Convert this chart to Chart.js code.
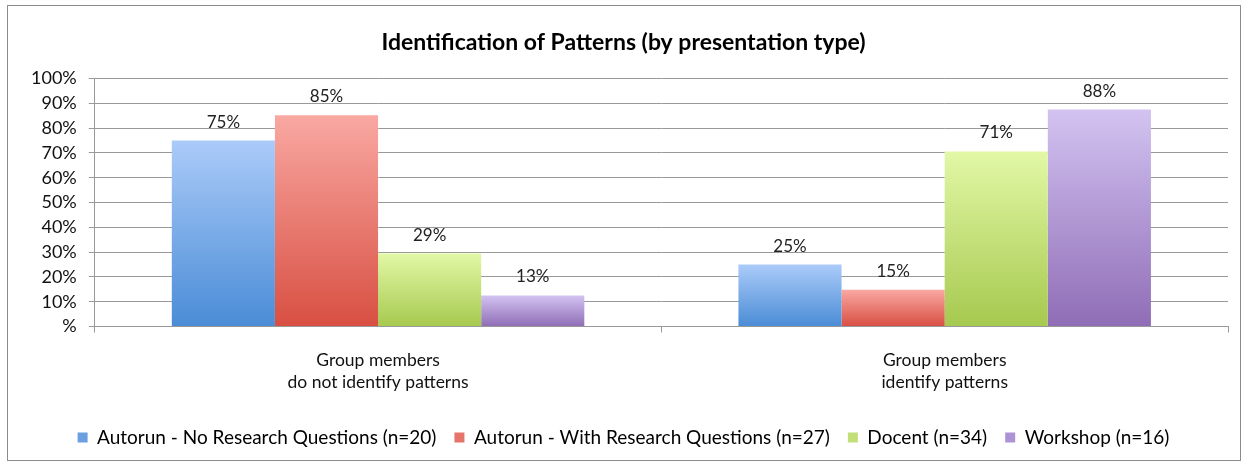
<!DOCTYPE html>
<html>
<head>
<meta charset="utf-8">
<script src="https://cdn.jsdelivr.net/npm/chart.js@4.4.0/dist/chart.umd.min.js"></script>
<style>
  body { margin: 0; background: #fff; }
  #wrap { position: absolute; left: 0; top: 0; width: 1248px; height: 465px; }
  #frame { position: absolute; left: 7px; top: 5px; width: 1232px; height: 454px; border: 1px solid #8c8c8c; pointer-events: none; }
</style>
</head>
<body>
<div id="wrap">
  <canvas id="myChart" width="1248" height="465"></canvas>
  <div id="frame"></div>
</div>
<script>
var categories = [['Group members', 'do not identify patterns'], ['Group members', 'identify patterns']];
var seriesNames = ['Autorun - No Research Questions (n=20)', 'Autorun - With Research Questions (n=27)', 'Docent (n=34)', 'Workshop (n=16)'];
var noResearch = [75, 25];
var withResearch = [85.2, 14.8];
var docent = [29.4, 70.6];
var workshop = [12.5, 87.5];
var yTicks = ['%', '10%', '20%', '30%', '40%', '50%', '60%', '70%', '80%', '90%', '100%'];

var palette = [
    { top: '#abcbf9', bottom: '#4a8cd6', solid: '#6a9fe0' },
    { top: '#f9a8a2', bottom: '#d84f42', solid: '#e5756b' },
    { top: '#e2f8a6', bottom: '#a6c94f', solid: '#c2df78' },
    { top: '#d3c3f1', bottom: '#8f6db6', solid: '#ad93d5' }
];

function barFill(i) {
    return function(ctx) {
        var chart = ctx.chart;
        var y = chart.scales && chart.scales.y;
        if (ctx.raw === undefined || !y || !chart.chartArea) return palette[i].solid;
        var top = y.getPixelForValue(ctx.raw);
        var bottom = y.getPixelForValue(0);
        if (!isFinite(top) || !isFinite(bottom) || top === bottom) return palette[i].solid;
        var g = chart.ctx.createLinearGradient(0, top, 0, bottom);
        g.addColorStop(0, palette[i].top);
        g.addColorStop(1, palette[i].bottom);
        return g;
    };
}

var valueLabels = {
    id: 'valueLabels',
    afterDatasetsDraw: function(chart) {
        var c = chart.ctx;
        c.save();
        c.font = '17px Lato';
        c.fillStyle = '#222';
        c.textAlign = 'center';
        c.textBaseline = 'bottom';
        chart.data.datasets.forEach(function(ds, i) {
            chart.getDatasetMeta(i).data.forEach(function(bar, j) {
                c.fillText(Math.round(ds.data[j]) + '%', bar.x, bar.y - 10);
            });
        });
        c.restore();
    }
};

var sets = [noResearch, withResearch, docent, workshop];
var ctx = document.getElementById('myChart').getContext('2d');
var myChart = new Chart(ctx, {
    type: 'bar',
    data: {
        labels: categories,
        datasets: sets.map(function(d, i) {
            return {
                label: seriesNames[i],
                data: d,
                backgroundColor: barFill(i),
                borderWidth: 0,
                barPercentage: 1,
                categoryPercentage: 0.728
            };
        })
    },
    options: {
        responsive: false,
        animation: false,
        layout: {
            padding: { left: 19, right: 20, top: 0, bottom: 8 }
        },
        plugins: {
            title: {
                display: true,
                text: 'Identification of Patterns (by presentation type)',
                color: '#000',
                font: { family: 'Lato', size: 23, weight: 'bold' },
                padding: { top: 29, bottom: 22 }
            },
            legend: {
                position: 'bottom',
                labels: {
                    color: '#111',
                    font: { family: 'Lato', size: 19 },
                    boxWidth: 10,
                    boxHeight: 10,
                    padding: 18,
                    generateLabels: function(chart) {
                        return chart.data.datasets.map(function(ds, i) {
                            return {
                                text: ds.label,
                                fillStyle: palette[i].solid,
                                strokeStyle: palette[i].solid,
                                lineWidth: 0,
                                datasetIndex: i
                            };
                        });
                    }
                }
            },
            tooltip: { enabled: false }
        },
        scales: {
            x: {
                grid: {
                    offset: true,
                    drawOnChartArea: false,
                    color: '#999',
                    tickLength: 6
                },
                border: { color: '#999' },
                ticks: {
                    color: '#111',
                    font: { family: 'Lato', size: 17.5, lineHeight: 1.3 },
                    padding: 16
                }
            },
            y: {
                min: 0,
                max: 100,
                grid: {
                    color: '#999',
                    tickLength: 6
                },
                border: { color: '#999' },
                ticks: {
                    stepSize: 10,
                    autoSkip: false,
                    color: '#111',
                    font: { family: 'Lato', size: 18 },
                    padding: 12,
                    callback: function(v) { return yTicks[Math.round(v / 10)]; }
                }
            }
        }
    },
    plugins: [valueLabels]
});
</script>
</body>
</html>
